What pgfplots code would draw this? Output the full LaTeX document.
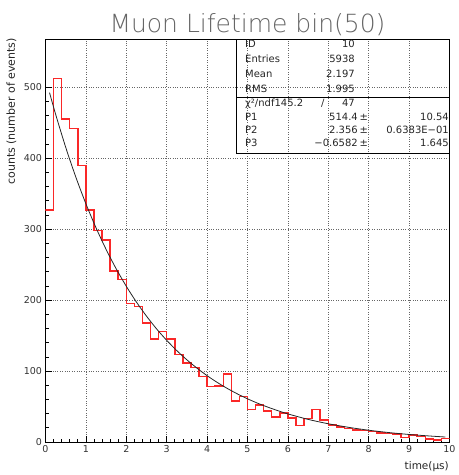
\documentclass[border=0pt]{standalone}
\usepackage{fontspec}
\usepackage{pgfplots}
\usepackage{pgfplotstable}
\pgfplotsset{compat=1.18}
\setmainfont{DejaVu Sans}
\IfFontExistsTF{DejaVu Sans ExtraLight}
  {\newfontfamily\titlefont{DejaVu Sans ExtraLight}}
  {\newfontfamily\titlefont{DejaVu Sans}}
\definecolor{histred}{RGB}{250,40,40}

% counts per 0.2 us bin (left bin edge, counts); last row closes the final bin
\pgfplotstableread{
x    y
0.0  327
0.2  512
0.4  455
0.6  442
0.8  390
1.0  327
1.2  298
1.4  285
1.6  241
1.8  229
2.0  195
2.2  191
2.4  168
2.6  145
2.8  156
3.0  145
3.2  123
3.4  111
3.6  105
3.8  92
4.0  78
4.2  79
4.4  96
4.6  58
4.8  64
5.0  46
5.2  52
5.4  44
5.6  35
5.8  41
6.0  34
6.2  23
6.4  33
6.6  46
6.8  31
7.0  24
7.2  21
7.4  19
7.6  17
7.8  16
8.0  15
8.2  13
8.4  12
8.6  11
8.8  6
9.0  10
9.2  8
9.4  4
9.6  3
9.8  5
10.0 5
}\histdata

% fitted curve P1*exp(-t/P2)+P3 sampled at fixed times
\pgfplotstableread{
x    y
0.10 492.4
0.25 462.0
0.50 415.4
0.75 373.5
1.00 335.8
1.25 302.0
1.50 271.5
1.75 244.1
2.00 219.5
2.25 197.3
2.50 177.4
2.75 159.4
3.00 143.3
3.25 128.8
3.50 115.8
3.75 104.1
4.00 93.5
4.25 84.0
4.50 75.5
4.75 67.8
5.00 60.9
5.25 54.7
5.50 49.2
5.75 44.2
6.00 39.6
6.50 31.9
7.00 25.7
7.50 20.7
8.00 16.6
8.50 13.3
9.00 10.6
9.50 8.5
9.90 7.0
}\fitdata

\begin{document}
\begin{tikzpicture}[x=1pt,y=1pt]
\path (0,0) rectangle (457,475);
\begin{axis}[
  at={(45.5pt,33pt)}, anchor=south west,
  scale only axis, width=404pt, height=403pt,
  xmin=0, xmax=10, ymin=0, ymax=568,
  xtick={0,1,...,10}, ytick={0,100,...,500},
  minor x tick num=4, minor y tick num=4,
  tick align=inside, tick pos=left,
  major tick length=6pt, minor tick length=3.5pt,
  grid=major,
  major grid style={black!60, line width=0.6pt, dash pattern=on 0.6pt off 1.8pt},
  axis line style={line width=0.8pt},
  tick style={black, line width=0.7pt},
  ticklabel style={font=\fontsize{9.5}{11}\selectfont, text=black!80},
  /pgf/number format/assume math mode=true,
]
\addplot[const plot, draw=histred, line width=1.5pt] table[x=x,y=y] {\histdata};
\addplot[smooth, draw=black!85, line width=0.8pt] table[x=x,y=y] {\fitdata};
\end{axis}

% title and axis labels
\node[anchor=base, inner sep=0, text=black!60,
      font=\titlefont\fontsize{25}{30}\selectfont] at (247.5,442) {Muon Lifetime bin(50)};
\node[rotate=90, anchor=east, inner sep=0, text=black!85,
      font=\fontsize{11}{13}\selectfont] at (11.5,437) {counts (number of events)};
\node[anchor=mid east, inner sep=0, text=black!85,
      font=\fontsize{10.5}{12}\selectfont] at (449,8.5) {time(μs)};

% statistics box
\draw[line width=0.8pt] (236,322) rectangle (449.5,436);
\draw[line width=0.8pt] (236,378) -- (449.5,378);
\begin{scope}[every node/.style={inner sep=0, font=\fontsize{10}{12}\selectfont, text=black!85}]
\node[anchor=mid west] at (245,430) {ID};
\node[anchor=mid east] at (355,430) {10};
\node[anchor=mid west] at (245,415) {Entries};
\node[anchor=mid east] at (355,415) {5938};
\node[anchor=mid west] at (245,400) {Mean};
\node[anchor=mid east] at (355,400) {2.197};
\node[anchor=mid west] at (245,385.5) {RMS};
\node[anchor=mid east] at (355,385.5) {1.995};
\node[anchor=mid west] at (245,371) {χ²/ndf145.2};
\node[anchor=mid] at (322.7,371) {/};
\node[anchor=mid east] at (355,371) {47};
\node[anchor=mid west] at (245,357.5) {P1};
\node[anchor=mid east] at (358,357.5) {514.4};
\node[anchor=mid west] at (359.5,357.5) {±};
\node[anchor=mid east] at (449,357.5) {10.54};
\node[anchor=mid west] at (245,344) {P2};
\node[anchor=mid east] at (358,344) {2.356};
\node[anchor=mid west] at (359.5,344) {±};
\node[anchor=mid east] at (449,344) {0.6383E−01};
\node[anchor=mid west] at (245,331) {P3};
\node[anchor=mid east] at (358,331) {−0.6582};
\node[anchor=mid west] at (359.5,331) {±};
\node[anchor=mid east] at (449,331) {1.645};
\end{scope}
\end{tikzpicture}
\end{document}
